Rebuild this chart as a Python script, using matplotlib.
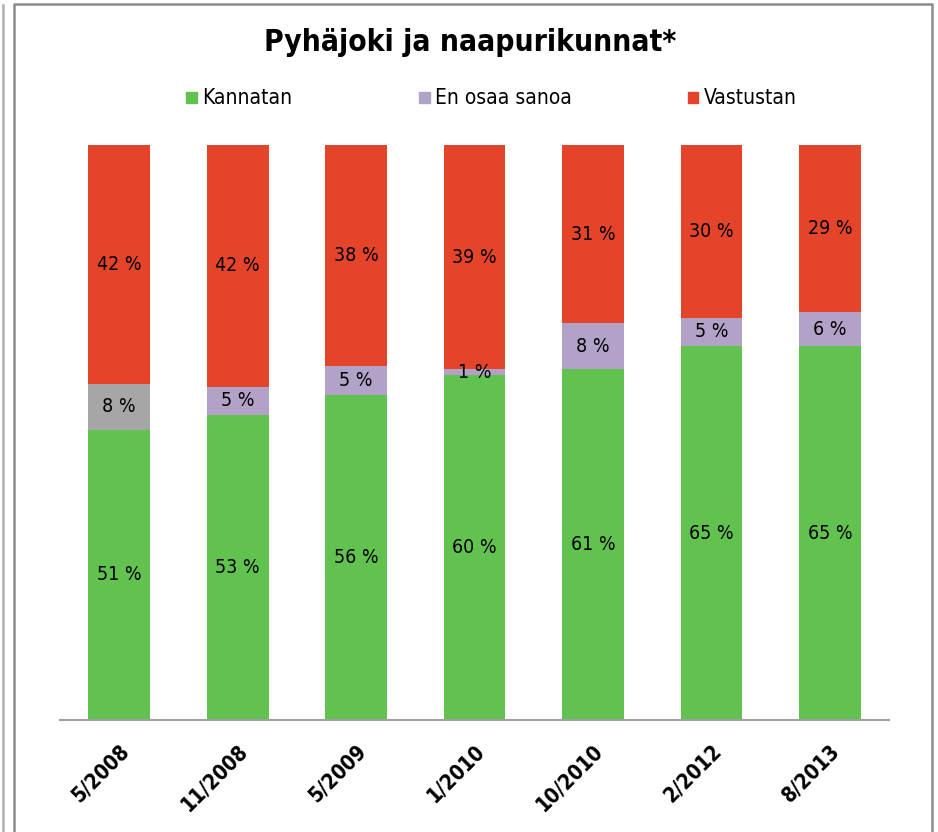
import numpy as np
import matplotlib.pyplot as plt
from matplotlib import font_manager
from matplotlib.lines import Line2D

names = {f.name for f in font_manager.fontManager.ttflist}
narrow = 'Liberation Sans Narrow' if 'Liberation Sans Narrow' in names else 'DejaVu Sans'
plt.rcParams['font.family'] = [narrow, 'DejaVu Sans']
plt.rcParams['font.stretch'] = 'condensed'

dates = ["5/2008", "11/2008", "5/2009", "1/2010", "10/2010", "2/2012", "8/2013"]
kannatan = [51, 53, 56, 60, 61, 65, 65]
en_osaa = [8, 5, 5, 1, 8, 5, 6]
vastustan = [42, 42, 38, 39, 31, 30, 29]

green = "#61C250"
purple = "#B3A2C7"
grey = "#A6A6A6"
red = "#E4452A"

k = np.array(kannatan, float)
e = np.array(en_osaa, float)
v = np.array(vastustan, float)
tot = k + e + v
kn, en, vn = k / tot * 100, e / tot * 100, v / tot * 100

fig = plt.figure(figsize=(9.38, 8.32), dpi=100)
ax = fig.add_axes([0.064, 0.1346, 0.884, 0.6911])

x = np.arange(len(dates))
w = 0.52
mid_colors = [grey] + [purple] * (len(dates) - 1)
ax.bar(x, kn, w, color=green)
ax.bar(x, en, w, bottom=kn, color=mid_colors)
ax.bar(x, vn, w, bottom=kn + en, color=red)

for i in range(len(dates)):
    ax.text(x[i], kn[i] / 2, f"{kannatan[i]} %", ha='center', va='center', fontsize=14)
    ax.text(x[i], kn[i] + en[i] / 2, f"{en_osaa[i]} %", ha='center', va='center', fontsize=14)
    ax.text(x[i], kn[i] + en[i] + vn[i] / 2, f"{vastustan[i]} %", ha='center', va='center', fontsize=14)

ax.set_xlim(-0.5, len(dates) - 0.5)
ax.set_ylim(0, 100)
ax.set_yticks([])
ax.set_xticks(x)
ax.set_xticklabels(dates, rotation=45, ha='right', rotation_mode='anchor',
                   fontsize=15, fontweight='bold')
ax.tick_params(axis='x', length=0, pad=15)
for s in ['top', 'right', 'left']:
    ax.spines[s].set_visible(False)
ax.spines['bottom'].set_color('#A0A0A0')
ax.spines['bottom'].set_linewidth(1.5)

fig.text(0.501, 0.949, "Pyhäjoki ja naapurikunnat*", ha='center', va='center',
         fontsize=21.5, fontweight='bold')

labels = ["Kannatan", "En osaa sanoa", "Vastustan"]
for col, lab, xp in zip([green, purple, red], labels, [0.198, 0.447, 0.733]):
    fig.patches.append(plt.Rectangle((xp, 0.876), 0.0115, 0.013, color=col,
                                     transform=fig.transFigure, figure=fig))
    fig.text(xp + 0.017, 0.8825, lab, ha='left', va='center', fontsize=15)

# frame
fig.add_artist(Line2D([0.015, 0.015, 0.9935, 0.9935], [0.0, 0.995, 0.995, 0.0],
                      transform=fig.transFigure, color='#8C8C8C', lw=1.8))
fig.add_artist(Line2D([0.0035, 0.0035], [0.0, 0.994],
                      transform=fig.transFigure, color='#B0B0B0', lw=1.8))

fig.savefig("out.png", dpi=100)
